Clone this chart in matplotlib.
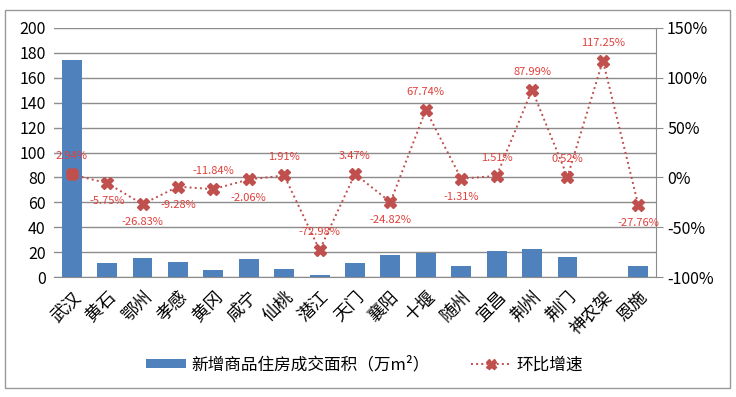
import numpy as np
import matplotlib.pyplot as plt
from matplotlib.patches import Rectangle
from matplotlib.ticker import FuncFormatter

plt.rcParams['font.family'] = ['Noto Sans CJK SC', 'DejaVu Sans']
plt.rcParams['axes.unicode_minus'] = False

cities = ['武汉', '黄石', '鄂州', '孝感', '黄冈', '咸宁', '仙桃', '潜江', '天门',
          '襄阳', '十堰', '随州', '宜昌', '荆州', '荆门', '神农架', '恩施']
area = [174, 11, 15.5, 12.3, 5.8, 14.6, 6.6, 1.5, 11.2, 17.6, 19.4, 9, 21, 22.6, 16, 0, 8.8]
growth = [2.94, -5.75, -26.83, -9.28, -11.84, -2.06, 1.91, -72.98, 3.47, -24.82,
          67.74, -1.31, 1.51, 87.99, 0.52, 117.25, -27.76]
# label above (1) or below (-1) the marker
label_side = [1, -1, -1, -1, 1, -1, 1, 1, 1, -1, 1, -1, 1, 1, 1, 1, -1]

bar_color = '#4F81BD'
line_color = '#C0504D'
grid_color = '#8c8c8c'

fig = plt.figure(figsize=(7.36, 3.97), dpi=100)
ax = fig.add_axes([54/736, 1 - 277/397, 602/736, 249/397])
x = np.arange(len(cities))

bars = ax.bar(x, area, width=0.56, color=bar_color, zorder=2, label='新增商品住房成交面积（万m²）')
ax.set_xlim(-0.5, len(cities) - 0.5)
ax.set_ylim(0, 200)
ax.set_yticks(range(0, 201, 20))
ax.yaxis.grid(True, color=grid_color, linewidth=1)
ax.set_axisbelow(True)
for s in ['left', 'top', 'right']:
    ax.spines[s].set_visible(False)
ax.spines['bottom'].set_color(grid_color)
ax.tick_params(axis='y', length=0, labelsize=11.5, pad=6)
ax.tick_params(axis='x', length=0, labelsize=12.5, pad=8)
ax.set_xticks(x)
ax.set_xticklabels(cities, rotation=45, ha='right', va='top', rotation_mode='anchor')

ax2 = ax.twinx()
ax2.set_ylim(-100, 150)
ax2.set_yticks(range(-100, 151, 50))
ax2.yaxis.set_major_formatter(FuncFormatter(lambda v, p: f'{v:.0f}%'))
for s in ['left', 'top', 'bottom']:
    ax2.spines[s].set_visible(False)
ax2.spines['right'].set_color(grid_color)
ax2.tick_params(axis='y', direction='out', length=5, color=grid_color, labelsize=11.5, pad=3)

line, = ax2.plot(x, growth, linestyle=':', color=line_color, linewidth=1.4,
                 marker='X', markersize=9, markerfacecolor=line_color,
                 markeredgecolor=line_color, zorder=3, label='环比增速')
ax2.plot(x[0], growth[0], 'o', color=line_color, markersize=8, zorder=4)

for xi, g, side in zip(x, growth, label_side):
    ax2.annotate(f'{g:.2f}%', (xi, g), xytext=(0, 13 * side), textcoords='offset points',
                 ha='center', va='center', fontsize=8, color='#E0403A')

fig.legend(handles=[bars, line], loc='center', bbox_to_anchor=(0.495, 1 - 365/397),
           ncol=2, frameon=False, fontsize=12, handlelength=2.4, handleheight=0.4,
           handletextpad=0.3, columnspacing=2.5, markerscale=0.8)

fig.patches.append(Rectangle((5/736, 1 - 388/397), 725/736, 378/397, transform=fig.transFigure,
                             fill=False, edgecolor='#999999', linewidth=1))

fig.savefig('out.png', dpi=100)
